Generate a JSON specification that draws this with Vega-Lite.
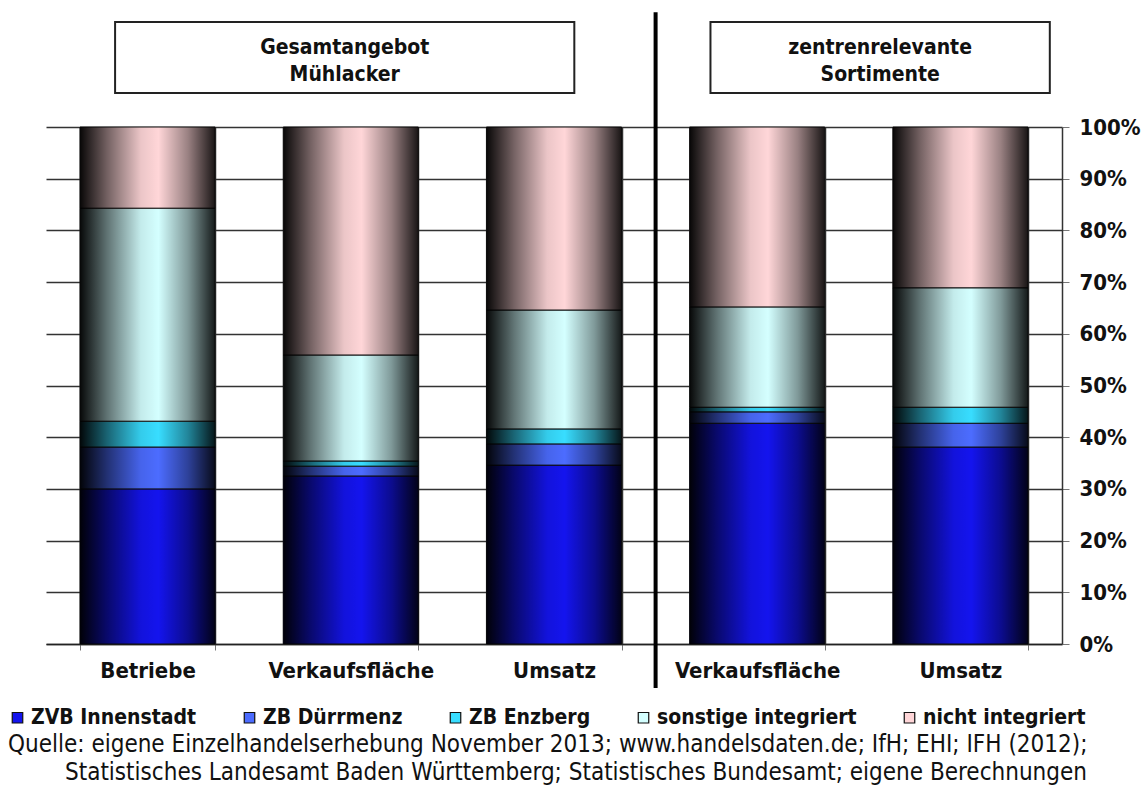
{
  "$schema": "https://vega.github.io/schema/vega-lite/v6.json",
  "width": 1016,
  "height": 517,
  "autosize": {"type": "none"},
  "padding": {"left": 46, "top": 127, "right": 82, "bottom": 141},
  "background": "white",
  "config": {
    "view": {"stroke": null},
    "font": "DejaVu Sans Condensed, Liberation Sans Narrow, sans-serif"
  },
  "datasets": {
    "typen": [
      {"typ": "ZVB Innenstadt", "rang": 1},
      {"typ": "ZB Dürrmenz", "rang": 2},
      {"typ": "ZB Enzberg", "rang": 3},
      {"typ": "sonstige integriert", "rang": 4},
      {"typ": "nicht integriert", "rang": 5}
    ],
    "anteile": [
      {"id": "1_Betriebe", "typ": "ZVB Innenstadt", "anteil": 0.300},
      {"id": "1_Betriebe", "typ": "ZB Dürrmenz", "anteil": 0.081},
      {"id": "1_Betriebe", "typ": "ZB Enzberg", "anteil": 0.050},
      {"id": "1_Betriebe", "typ": "sonstige integriert", "anteil": 0.412},
      {"id": "1_Betriebe", "typ": "nicht integriert", "anteil": 0.157},
      {"id": "2_Verkaufsfläche", "typ": "ZVB Innenstadt", "anteil": 0.325},
      {"id": "2_Verkaufsfläche", "typ": "ZB Dürrmenz", "anteil": 0.019},
      {"id": "2_Verkaufsfläche", "typ": "ZB Enzberg", "anteil": 0.010},
      {"id": "2_Verkaufsfläche", "typ": "sonstige integriert", "anteil": 0.205},
      {"id": "2_Verkaufsfläche", "typ": "nicht integriert", "anteil": 0.441},
      {"id": "3_Umsatz", "typ": "ZVB Innenstadt", "anteil": 0.346},
      {"id": "3_Umsatz", "typ": "ZB Dürrmenz", "anteil": 0.041},
      {"id": "3_Umsatz", "typ": "ZB Enzberg", "anteil": 0.029},
      {"id": "3_Umsatz", "typ": "sonstige integriert", "anteil": 0.230},
      {"id": "3_Umsatz", "typ": "nicht integriert", "anteil": 0.354},
      {"id": "4_Verkaufsfläche", "typ": "ZVB Innenstadt", "anteil": 0.427},
      {"id": "4_Verkaufsfläche", "typ": "ZB Dürrmenz", "anteil": 0.022},
      {"id": "4_Verkaufsfläche", "typ": "ZB Enzberg", "anteil": 0.009},
      {"id": "4_Verkaufsfläche", "typ": "sonstige integriert", "anteil": 0.194},
      {"id": "4_Verkaufsfläche", "typ": "nicht integriert", "anteil": 0.348},
      {"id": "5_Umsatz", "typ": "ZVB Innenstadt", "anteil": 0.381},
      {"id": "5_Umsatz", "typ": "ZB Dürrmenz", "anteil": 0.046},
      {"id": "5_Umsatz", "typ": "ZB Enzberg", "anteil": 0.031},
      {"id": "5_Umsatz", "typ": "sonstige integriert", "anteil": 0.231},
      {"id": "5_Umsatz", "typ": "nicht integriert", "anteil": 0.311}
    ]
  },
  "layer": [
    {
      "data": {"name": "anteile"},
      "encoding": {
        "x": {
          "field": "id",
          "type": "nominal",
          "sort": "ascending",
          "scale": {"paddingInner": 0.335, "paddingOuter": 0.1675},
          "axis": {
            "title": null,
            "labelExpr": "split(datum.label, '_')[1]",
            "labelAngle": 0,
            "labelFontSize": 22,
            "labelFontWeight": "bold",
            "labelColor": "#111",
            "labelPadding": 10,
            "tickBand": "extent",
            "grid": true,
            "gridColor": "#333",
            "gridWidth": 1.5,
            "tickColor": "#777",
            "tickSize": 6,
            "domainColor": "#222",
            "domainWidth": 1.5
          }
        }
      },
      "layer": [
        {
          "transform": [
            {"lookup": "typ", "from": {"data": {"name": "typen"}, "key": "typ", "fields": ["rang"]}}
          ],
          "mark": {"type": "bar", "stroke": "#111", "strokeWidth": 1},
          "encoding": {
            "y": {
              "field": "anteil",
              "type": "quantitative",
              "stack": "zero",
              "scale": {"domain": [0, 1]},
              "axis": {
                "title": null,
                "orient": "right",
                "format": ".0%",
                "values": [0, 0.1, 0.2, 0.3, 0.4, 0.5, 0.6, 0.7, 0.8, 0.9, 1],
                "labelFontSize": 22,
                "labelFontWeight": "bold",
                "labelColor": "#111",
                "labelPadding": 10,
                "grid": true,
                "gridColor": "#333",
                "gridWidth": 1.5,
                "tickColor": "#777",
                "tickSize": 7,
                "domainColor": "#333",
                "domainWidth": 1.5
              }
            },
            "color": {
              "field": "typ",
              "type": "nominal",
              "sort": ["ZVB Innenstadt", "ZB Dürrmenz", "ZB Enzberg", "sonstige integriert", "nicht integriert"],
              "scale": {
                "domain": ["ZVB Innenstadt", "ZB Dürrmenz", "ZB Enzberg", "sonstige integriert", "nicht integriert"],
                "range": ["#1414ee", "#4c6cff", "#38ddff", "#d4ffff", "#ffd6d8"]
              },
              "legend": {
                "title": null,
                "orient": "none",
                "legendX": -39,
                "legendY": 580,
                "direction": "horizontal",
                "symbolType": "square",
                "symbolSize": 110,
                "symbolStrokeColor": "#111",
                "symbolStrokeWidth": 1.2,
                "labelFontSize": 21,
                "labelFontWeight": "bold",
                "labelColor": "#111",
                "labelLimit": 0,
                "labelOffset": 3,
                "columnPadding": 42
              }
            },
            "order": {"field": "rang", "type": "quantitative", "sort": "ascending"}
          }
        },
        {
          "mark": {
            "type": "bar",
            "fill": {
              "gradient": "linear",
              "x1": 0, "x2": 1, "y1": 0, "y2": 0,
              "stops": [
                {"offset": 0, "color": "rgba(0,0,0,0.97)"},
                {"offset": 0.2, "color": "rgba(0,0,0,0.55)"},
                {"offset": 0.45, "color": "rgba(0,0,0,0.08)"},
                {"offset": 0.58, "color": "rgba(0,0,0,0)"},
                {"offset": 0.8, "color": "rgba(0,0,0,0.4)"},
                {"offset": 1, "color": "rgba(0,0,0,0.9)"}
              ]
            }
          },
          "encoding": {
            "y": {
              "aggregate": "sum",
              "field": "anteil",
              "type": "quantitative",
              "stack": "normalize",
              "scale": {"domain": [0, 1]}
            }
          }
        }
      ]
    },
    {
      "data": {"values": [{}]},
      "layer": [
        {
          "mark": {"type": "rect", "fill": "white", "stroke": "#222", "strokeWidth": 2},
          "encoding": {
            "x": {"datum": 0.34, "type": "quantitative", "scale": {"domain": [0, 5]}, "axis": null},
            "x2": {"datum": 2.60},
            "y": {"datum": 1.203, "type": "quantitative", "scale": {"domain": [0, 1]}},
            "y2": {"datum": 1.066}
          }
        },
        {
          "mark": {"type": "rect", "fill": "white", "stroke": "#222", "strokeWidth": 2},
          "encoding": {
            "x": {"datum": 3.27, "type": "quantitative", "scale": {"domain": [0, 5]}, "axis": null},
            "x2": {"datum": 4.94},
            "y": {"datum": 1.203, "type": "quantitative", "scale": {"domain": [0, 1]}},
            "y2": {"datum": 1.066}
          }
        },
        {
          "mark": {"type": "text", "fontSize": 21, "fontWeight": "bold", "color": "#111", "lineHeight": 27, "baseline": "middle", "align": "center"},
          "encoding": {
            "x": {"datum": 1.47, "type": "quantitative", "scale": {"domain": [0, 5]}, "axis": null},
            "y": {"datum": 1.153, "type": "quantitative", "scale": {"domain": [0, 1]}},
            "text": {"value": ["Gesamtangebot", "Mühlacker"]}
          }
        },
        {
          "mark": {"type": "text", "fontSize": 21, "fontWeight": "bold", "color": "#111", "lineHeight": 27, "baseline": "middle", "align": "center"},
          "encoding": {
            "x": {"datum": 4.105, "type": "quantitative", "scale": {"domain": [0, 5]}, "axis": null},
            "y": {"datum": 1.153, "type": "quantitative", "scale": {"domain": [0, 1]}},
            "text": {"value": ["zentrenrelevante", "Sortimente"]}
          }
        },
        {
          "mark": {"type": "rule", "color": "#000", "strokeWidth": 4},
          "encoding": {
            "x": {"datum": 3, "type": "quantitative", "scale": {"domain": [0, 5]}, "axis": null},
            "y": {"datum": 1.222, "type": "quantitative", "scale": {"domain": [0, 1]}},
            "y2": {"datum": -0.085}
          }
        },
        {
          "mark": {"type": "text", "fontSize": 24, "color": "#111", "baseline": "middle", "align": "left"},
          "encoding": {
            "x": {"datum": -0.187, "type": "quantitative", "scale": {"domain": [0, 5]}, "axis": null},
            "y": {"datum": -0.195, "type": "quantitative", "scale": {"domain": [0, 1]}},
            "text": {"value": "Quelle: eigene Einzelhandelserhebung November 2013; www.handelsdaten.de; IfH; EHI; IFH (2012);"}
          }
        },
        {
          "mark": {"type": "text", "fontSize": 24, "color": "#111", "baseline": "middle", "align": "left"},
          "encoding": {
            "x": {"datum": 0.0935, "type": "quantitative", "scale": {"domain": [0, 5]}, "axis": null},
            "y": {"datum": -0.2495, "type": "quantitative", "scale": {"domain": [0, 1]}},
            "text": {"value": "Statistisches Landesamt Baden Württemberg; Statistisches Bundesamt; eigene Berechnungen"}
          }
        }
      ]
    }
  ],
  "resolve": {"scale": {"x": "independent"}}
}
